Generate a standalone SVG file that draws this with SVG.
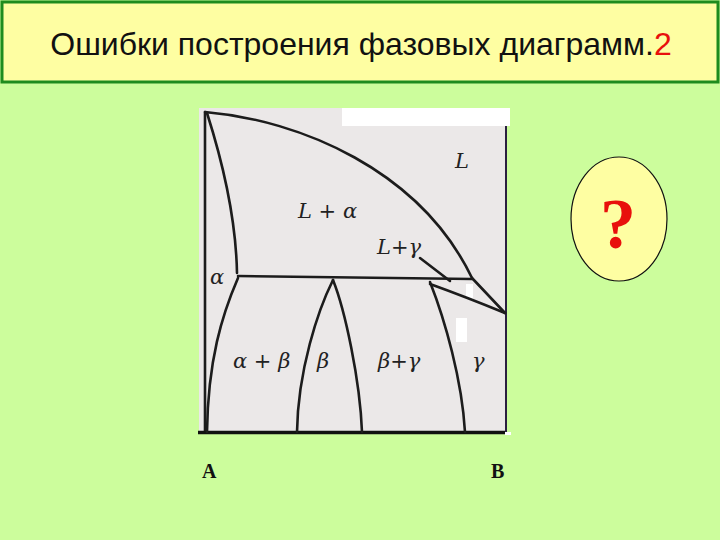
<svg xmlns="http://www.w3.org/2000/svg" width="720" height="540" viewBox="0 0 720 540">
<style>
.ln{fill:none;stroke:#1c1c1c;stroke-width:2.6;stroke-linecap:round}
.lab{font-family:"DejaVu Serif","Liberation Serif",serif;font-style:italic;font-size:21px;fill:#222}
.ab{font-family:"Liberation Serif",serif;font-weight:bold;font-size:20px;fill:#111}
</style>
<rect x="0" y="0" width="720" height="540" fill="#ccfd9c"/>
<g id="title">
<rect x="2" y="2" width="716" height="80" fill="#fefea2" stroke="#1e8c1e" stroke-width="3"/>
<text x="361" y="55" text-anchor="middle" font-family="Liberation Sans, Arial, sans-serif" font-size="32" fill="#111">Ошибки построения фазовых диаграмм.<tspan fill="#e8100c">2</tspan></text>
</g>
<g id="phase-diagram">
<rect x="199" y="108" width="307" height="324" fill="#ebe8e8"/>
<rect x="342" y="108" width="168" height="18" fill="#ffffff"/>
<rect x="466" y="284" width="7" height="15" fill="#ffffff"/>
<rect x="456" y="318" width="11" height="24" fill="#ffffff"/>
<rect x="505" y="432" width="6" height="3" fill="#ffffff"/>
<g id="connectors">
<path class="ln" d="M205,112 L205,432"/>
<path d="M506,126 L506,432" fill="none" stroke="#2a2040" stroke-width="2"/>
<path d="M198,432.5 L505,432.5" fill="none" stroke="#111" stroke-width="3.5"/>
<path class="ln" d="M205,112 C300,120 420,170 472,278"/>
<path class="ln" d="M207,113 C222,160 236,220 237,273"/>
<path class="ln" d="M238,278 C222,315 208,360 207,432"/>
<path class="ln" d="M238,276 L472,279"/>
<path class="ln" d="M333,280 C318,310 298,370 297,432"/>
<path class="ln" d="M333,280 C345,310 360,380 362,432"/>
<path class="ln" d="M430,282 C445,320 462,380 465,432"/>
<path class="ln" d="M430,284 Q466,297 505,313"/>
<path class="ln" d="M472,278 L505,313" stroke-width="3.4"/>
<path class="ln" d="M420,258 L450,281" stroke-width="2"/>
</g>
<g id="labels">
<text class="lab" x="455" y="168">L</text>
<text class="lab" x="298" y="218">L + α</text>
<text class="lab" x="377" y="254">L+γ</text>
<text class="lab" x="210" y="284">α</text>
<text class="lab" x="233" y="368">α + β</text>
<text class="lab" x="317" y="368">β</text>
<text class="lab" x="378" y="368">β+γ</text>
<text class="lab" x="472" y="368">γ</text>
</g>
</g>
<g id="question">
<ellipse cx="619" cy="219" rx="48" ry="62" fill="#fefea2" stroke="#111" stroke-width="1.2"/>
<text x="618" y="248" text-anchor="middle" font-family="Liberation Serif, serif" font-weight="bold" font-size="72" fill="#e8100c">?</text>
</g>
<text class="ab" x="202" y="478">A</text>
<text class="ab" x="491" y="478">B</text>
</svg>
